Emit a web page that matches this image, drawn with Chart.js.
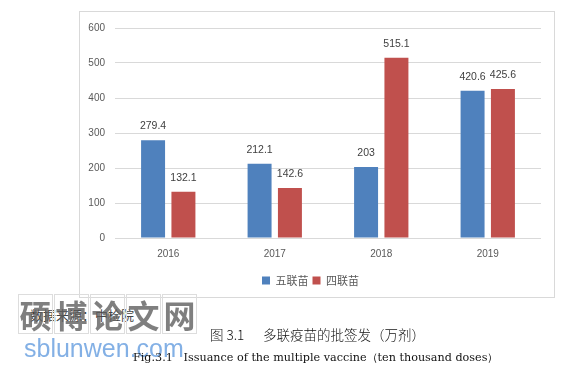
<!DOCTYPE html>
<html>
<head>
<meta charset="utf-8">
<script src="https://cdn.jsdelivr.net/npm/chart.js@4/dist/chart.umd.min.js"></script>
<style>
  body { margin: 0; background: #fff; width: 579px; height: 367px; position: relative; overflow: hidden; }
  #box { position: absolute; left: 79px; top: 11px; width: 476px; height: 287px; border: 1px solid #d9d9d9; box-sizing: border-box; }
  #wrap { position: absolute; left: 0; top: 0; width: 474px; height: 285px; }
  .txt { position: absolute; white-space: nowrap; color: #222; }
  #src { left: 30px; top: 305px; font: 13px "Noto Sans CJK SC", sans-serif; color: #444; }
  #cap1a { left: 210px; top: 324px; font: 300 13.5px "Noto Sans CJK SC", sans-serif; color: #111; }
  #cap1b { left: 263px; top: 324px; font: 300 13.5px "Noto Sans CJK SC", sans-serif; color: #111; }
  #cap2 { left: 133px; top: 350px; font: 11.2px "DejaVu Serif", serif; color: #111; }
  #wm { position: absolute; left: 18px; top: 294px; display: flex; }
  #wm span { width: 33px; height: 38px; border: 1px solid #ddd; margin-right: 1px; font: bold 32px "Noto Sans CJK SC", sans-serif; line-height: 38px; text-align: center; color: rgba(95,95,95,0.8); }
  #wm2 { left: 24px; top: 334px; font: 25px "Liberation Sans", Arial, sans-serif; color: rgba(90,150,220,0.75); }
</style>
</head>
<body>
<div id="box"><div id="wrap"><canvas id="chart"></canvas></div></div>
<div class="txt" id="src">数据来源：中检院</div>
<div id="wm"><span>硕</span><span>博</span><span>论</span><span>文</span><span>网</span></div>
<div class="txt" id="wm2">sblunwen.com</div>
<div class="txt" id="cap1a">图 3.1</div>
<div class="txt" id="cap1b">多联疫苗的批签发（万剂）</div>
<div class="txt" id="cap2">Fig.3.1&nbsp;&nbsp;&nbsp;Issuance of the multiple vaccine（ten thousand doses）</div>
<script>
const years = ['2016', '2017', '2018', '2019'];
const fiveVaccine = [279.4, 212.1, 203, 420.6];
const fourVaccine = [132.1, 142.6, 515.1, 425.6];
const yTicks = [0, 100, 200, 300, 400, 500, 600];

const textColor = '#595959';

// draws the value over each bar
const valueLabels = {
    id: 'valueLabels',
    afterDatasetsDraw(chart) {
        const ctx = chart.ctx;
        ctx.save();
        ctx.font = '10.5px "Liberation Sans", Arial, sans-serif';
        ctx.fillStyle = '#404040';
        ctx.textAlign = 'center';
        ctx.textBaseline = 'middle';
        chart.data.datasets.forEach((ds, i) => {
            chart.getDatasetMeta(i).data.forEach((bar, j) => {
                ctx.fillText(String(ds.data[j]), bar.x, bar.y - 14);
            });
        });
        ctx.restore();
    }
};

new Chart(document.getElementById('chart'), {
    type: 'bar',
    data: {
        labels: years,
        datasets: [
            { label: '五联苗', data: fiveVaccine, backgroundColor: '#4F81BD' },
            { label: '四联苗', data: fourVaccine, backgroundColor: '#C0504D' }
        ]
    },
    options: {
        responsive: true,
        maintainAspectRatio: false,
        animation: false,
        categoryPercentage: 0.57,
        barPercentage: 0.79,
        layout: { padding: { top: 14, right: 13, left: 0, bottom: 1 } },
        scales: {
            x: {
                grid: { display: false },
                border: { display: false },
                ticks: { color: textColor, font: { size: 10, family: '"Liberation Sans", Arial, sans-serif' }, padding: 2 },
                afterFit(scale) { scale.height = 33; }
            },
            y: {
                min: 0,
                max: 600,
                afterBuildTicks(scale) { scale.ticks = yTicks.map(v => ({ value: v })); },
                grid: { color: '#d9d9d9', drawTicks: false },
                border: { display: false },
                ticks: { color: textColor, font: { size: 10, family: '"Liberation Sans", Arial, sans-serif' }, padding: 10 },
                afterFit(scale) { scale.width = 35; }
            }
        },
        plugins: {
            legend: {
                position: 'bottom',
                labels: {
                    boxWidth: 8,
                    boxHeight: 8,
                    padding: 4,
                    color: textColor,
                    font: { size: 11, family: '"Noto Sans CJK SC", sans-serif' }
                }
            },
            tooltip: { enabled: false }
        }
    },
    plugins: [valueLabels]
});
</script>
</body>
</html>
